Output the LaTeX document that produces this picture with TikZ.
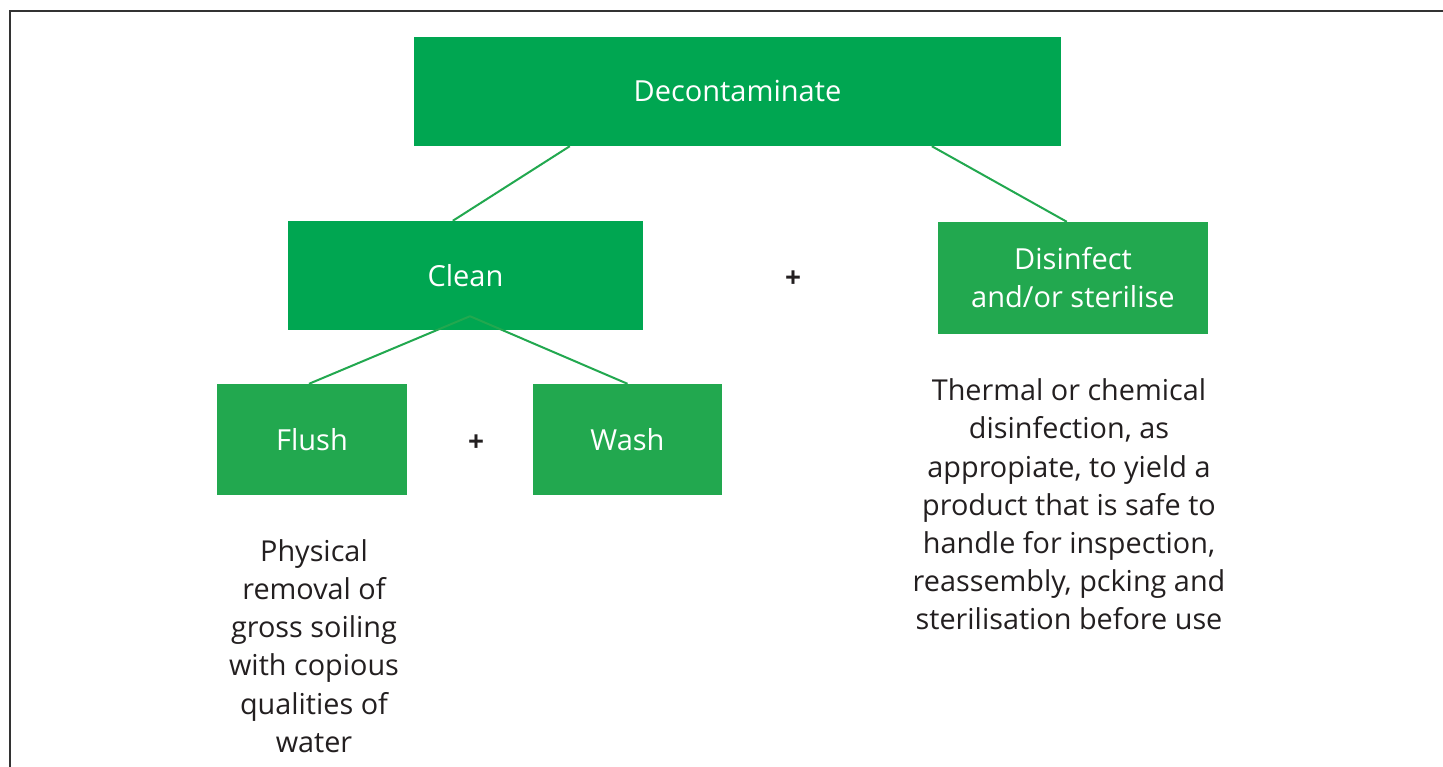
\documentclass[tikz,border=0pt]{standalone}
\usepackage{fontspec}
\setmainfont{Open Sans}
\usetikzlibrary{calc}
\definecolor{gdark}{HTML}{00A651}
\definecolor{glight}{HTML}{22A84F}
\definecolor{txt}{HTML}{231F20}
\definecolor{frame}{HTML}{333333}
\begin{document}
\begin{tikzpicture}[x=1pt,y=-1pt,
  box/.style={inner sep=0pt, text=white, align=center, font=\fontsize{29}{38}\selectfont},
  darkbox/.style={box, fill=gdark},
  lightbox/.style={box, fill=glight},
  desc/.style={inner sep=0pt, text=txt, align=center, font=\fontsize{28.8}{38.2}\selectfont},
  plus/.style={inner sep=0pt, text=txt, font=\fontsize{28}{30}\selectfont\bfseries},
  link/.style={draw=glight, line width=2pt}]
\useasboundingbox (0,0) rectangle (1443,767);
\fill[white] (0,0) rectangle (1443,767);
\draw[frame, line width=2pt] (10,767) -- (10,11) -- (1443,11);

\node[darkbox, minimum width=647pt, minimum height=109pt] (dec) at (737.5,91.5) {Decontaminate};
\node[darkbox, minimum width=355pt, minimum height=109pt] (clean) at (465.5,275.5) {Clean};
\node[lightbox, minimum width=270pt, minimum height=112pt] (dis) at (1073,278) {Disinfect\\and/or sterilise};
\node[lightbox, minimum width=190pt, minimum height=111pt] (flush) at (312,439.5) {Flush};
\node[lightbox, minimum width=189pt, minimum height=111pt] (wash) at (627.5,439.5) {Wash};

\node[plus] (p1) at (793,279) {+};
\node[plus] (p2) at (476,443) {+};

\node[desc] (fdesc) at (314,646) {Physical\\removal of\\gross soiling\\with copious\\qualities of\\water};
\node[desc] (ddesc) at (1069,504.5) {Thermal or chemical\\disinfection, as\\appropiate, to yield a\\product that is safe to\\handle for inspection,\\reassembly, pcking and\\sterilisation before use};

\coordinate (cj) at ($(clean.south)+(4.5,-14)$);
\draw[link] ($(dec.south west)+(156,0)$) -- ($(clean.north west)+(165,0)$);
\draw[link] ($(dec.south west)+(518,0)$) -- ($(dis.north west)+(129,0)$);
\draw[link] (cj) -- ($(flush.north)+(-3,0)$);
\draw[link] (cj) -- ($(wash.north)+(0,0)$);
\end{tikzpicture}
\end{document}
